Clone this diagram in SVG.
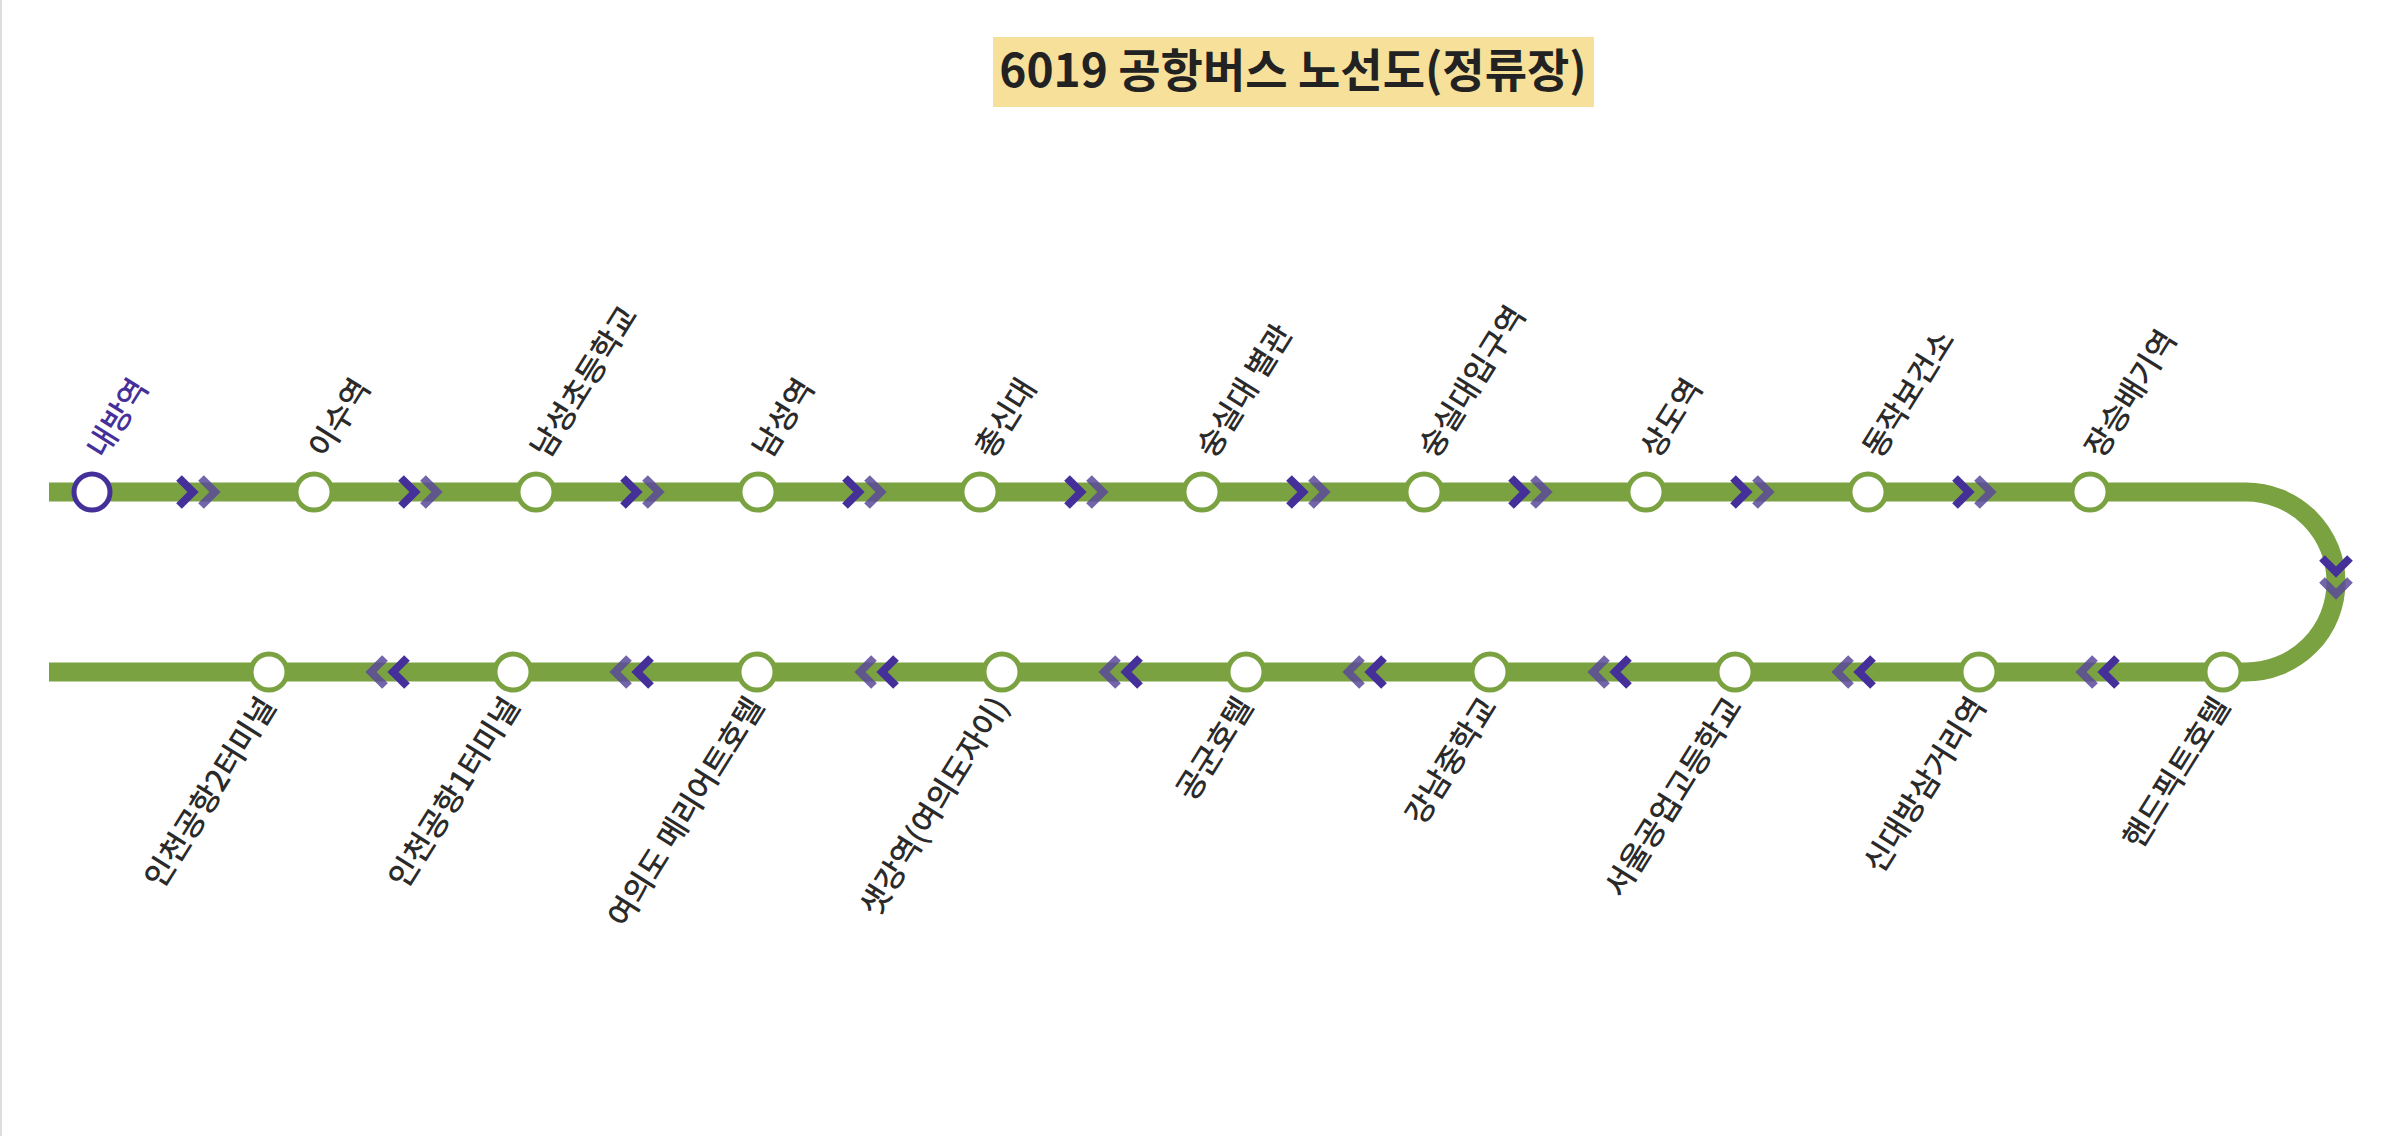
<svg xmlns="http://www.w3.org/2000/svg" width="2396" height="1136" viewBox="0 0 2396 1136">
<defs>
<style>
.st{fill:#fff;stroke:#7ba241;stroke-width:5}
.lb{font-family:"Noto Sans CJK KR","Noto Sans",sans-serif;font-size:31px;font-weight:500;fill:#2a2a2a}
.ch{fill:none;stroke:#45309a;stroke-width:8;stroke-linejoin:miter}
.ch2{fill:none;stroke:#5a4a9a;stroke-opacity:0.85;stroke-width:8}
</style>
<g id="fw"><polyline class="ch" points="-24,-14 -10,0 -24,14"/><polyline class="ch2" points="-2,-14 12,0 -2,14"/></g>
<g id="bw"><polyline class="ch" points="24,-14 10,0 24,14"/><polyline class="ch2" points="2,-14 -12,0 2,14"/></g>
<g id="dw"><polyline class="ch" points="-14,-24 0,-10 14,-24"/><polyline class="ch2" points="-14,-2 0,12 14,-2"/></g>
</defs>
<rect width="2396" height="1136" fill="#fff"/>
<line x1="1" y1="0" x2="1" y2="1136" stroke="#ddd" stroke-width="2"/>
<g id="title"><rect x="993" y="37" width="601" height="70" fill="#f6e09a"/>
<text x="1293" y="87" text-anchor="middle" font-family="'Noto Sans CJK KR','Noto Sans',sans-serif" font-size="46" font-weight="bold" fill="#222">6019 공항버스 노선도(정류장)</text></g>
<g id="connectors">
<path d="M49,492 H2246 A90,90 0 0 1 2246,672 H49" fill="none" stroke="#7ba241" stroke-width="19"/>
<use href="#fw" x="203" y="492"/><use href="#fw" x="425" y="492"/><use href="#fw" x="647" y="492"/><use href="#fw" x="869" y="492"/><use href="#fw" x="1091" y="492"/><use href="#fw" x="1313" y="492"/><use href="#fw" x="1535" y="492"/><use href="#fw" x="1757" y="492"/><use href="#fw" x="1979" y="492"/>
<use href="#dw" x="2336" y="582"/>
<use href="#bw" x="2093" y="672"/><use href="#bw" x="1849" y="672"/><use href="#bw" x="1605" y="672"/><use href="#bw" x="1360" y="672"/><use href="#bw" x="1116" y="672"/><use href="#bw" x="872" y="672"/><use href="#bw" x="627" y="672"/><use href="#bw" x="383" y="672"/>
</g>
<g id="s1"><circle cx="92" cy="492" r="18" fill="#fff" stroke="#45309a" stroke-width="5"/><text class="lb" style="fill:#45309a" transform="translate(104,460) rotate(-58)">내방역</text></g>
<g id="s2"><circle class="st" cx="314" cy="492" r="18"/><text class="lb" transform="translate(326,460) rotate(-58)">이수역</text></g>
<g id="s3"><circle class="st" cx="536" cy="492" r="18"/><text class="lb" transform="translate(548,460) rotate(-58)">남성초등학교</text></g>
<g id="s4"><circle class="st" cx="758" cy="492" r="18"/><text class="lb" transform="translate(770,460) rotate(-58)">남성역</text></g>
<g id="s5"><circle class="st" cx="980" cy="492" r="18"/><text class="lb" transform="translate(992,460) rotate(-58)">총신대</text></g>
<g id="s6"><circle class="st" cx="1202" cy="492" r="18"/><text class="lb" transform="translate(1214,460) rotate(-58)">숭실대 별관</text></g>
<g id="s7"><circle class="st" cx="1424" cy="492" r="18"/><text class="lb" transform="translate(1436,460) rotate(-58)">숭실대입구역</text></g>
<g id="s8"><circle class="st" cx="1646" cy="492" r="18"/><text class="lb" transform="translate(1658,460) rotate(-58)">상도역</text></g>
<g id="s9"><circle class="st" cx="1868" cy="492" r="18"/><text class="lb" transform="translate(1880,460) rotate(-58)">동작보건소</text></g>
<g id="s10"><circle class="st" cx="2090" cy="492" r="18"/><text class="lb" transform="translate(2102,460) rotate(-58)">장승배기역</text></g>
<g id="s11"><circle class="st" cx="2223" cy="672" r="18"/><text class="lb" text-anchor="end" transform="translate(2231,706) rotate(-58)">핸드픽트호텔</text></g>
<g id="s12"><circle class="st" cx="1979" cy="672" r="18"/><text class="lb" text-anchor="end" transform="translate(1987,706) rotate(-58)">신대방삼거리역</text></g>
<g id="s13"><circle class="st" cx="1735" cy="672" r="18"/><text class="lb" text-anchor="end" transform="translate(1743,706) rotate(-58)">서울공업고등학교</text></g>
<g id="s14"><circle class="st" cx="1490" cy="672" r="18"/><text class="lb" text-anchor="end" transform="translate(1498,706) rotate(-58)">강남중학교</text></g>
<g id="s15"><circle class="st" cx="1246" cy="672" r="18"/><text class="lb" text-anchor="end" transform="translate(1254,706) rotate(-58)">공군호텔</text></g>
<g id="s16"><circle class="st" cx="1002" cy="672" r="18"/><text class="lb" text-anchor="end" transform="translate(1010,706) rotate(-58)">샛강역(여의도자이)</text></g>
<g id="s17"><circle class="st" cx="757" cy="672" r="18"/><text class="lb" text-anchor="end" transform="translate(765,706) rotate(-58)">여의도 메리어트호텔</text></g>
<g id="s18"><circle class="st" cx="513" cy="672" r="18"/><text class="lb" text-anchor="end" transform="translate(521,706) rotate(-58)">인천공항1터미널</text></g>
<g id="s19"><circle class="st" cx="269" cy="672" r="18"/><text class="lb" text-anchor="end" transform="translate(277,706) rotate(-58)">인천공항2터미널</text></g>
</svg>
